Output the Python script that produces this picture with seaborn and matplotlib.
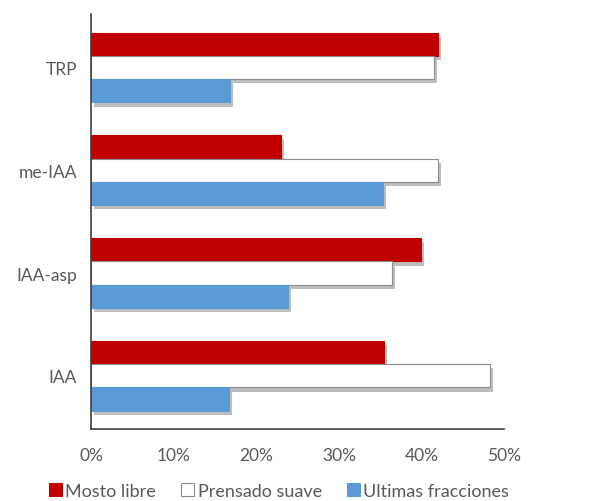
import matplotlib
matplotlib.use("Agg")
import matplotlib.pyplot as plt
import matplotlib.patheffects as pe
from matplotlib.patches import Patch
from matplotlib.ticker import PercentFormatter
import pandas as pd
import seaborn as sns

compuestos = ["TRP", "me-IAA", "IAA-asp", "IAA"]
fracciones = ["Mosto libre", "Prensado suave", "Ultimas fracciones"]
mosto_libre = [42.0, 23.0, 40.0, 35.5]
prensado_suave = [41.5, 42.0, 36.4, 48.3]
ultimas_fracciones = [16.8, 35.4, 23.9, 16.7]

colores = {"Mosto libre": "#C00000", "Prensado suave": "#FFFFFF", "Ultimas fracciones": "#5B9BD5"}
bordes = {"Mosto libre": "#C00000", "Prensado suave": "#8C8C8C", "Ultimas fracciones": "#5B9BD5"}

df = pd.DataFrame({
    "compuesto": compuestos * 3,
    "fraccion": [f for f in fracciones for _ in compuestos],
    "valor": mosto_libre + prensado_suave + ultimas_fracciones,
})

sns.set_theme(style="white")
plt.rcParams["font.family"] = ["Lato", "DejaVu Sans"]
texto = "#595959"

fig = plt.figure(figsize=(6.03, 5.02), dpi=100)
ax = fig.add_axes([0.151, 0.143, 0.685, 0.827])

sns.barplot(data=df, y="compuesto", x="valor", hue="fraccion",
            order=compuestos, hue_order=fracciones, palette=colores,
            orient="h", width=0.68, ax=ax, legend=False, saturation=1)

sombra = [pe.SimplePatchShadow(offset=(2, -3), shadow_rgbFace="#7f7f7f", alpha=0.5), pe.Normal()]
for cont, frac in zip(ax.containers, fracciones):
    for bar in cont:
        bar.set_edgecolor(bordes[frac])
        bar.set_linewidth(0.8)
        bar.set_path_effects(sombra)

ax.set_xlim(0, 50)
ax.set_ylim(3.52, -0.52)
ax.set_xticks([0, 10, 20, 30, 40, 50])
ax.xaxis.set_major_formatter(PercentFormatter(decimals=0))
ax.set_xlabel("")
ax.set_ylabel("")

for s in ["top", "right"]:
    ax.spines[s].set_visible(False)
for s in ["left", "bottom"]:
    ax.spines[s].set_color("#404040")
    ax.spines[s].set_linewidth(1.2)

ax.tick_params(axis="x", which="major", direction="out", length=5, width=1,
               color="#404040", labelsize=12.5, labelcolor=texto, pad=8)
ax.tick_params(axis="y", length=0, labelsize=12.5, labelcolor=texto, pad=10)

handles = [Patch(facecolor=colores[f], edgecolor=bordes[f], linewidth=0.8, label=f) for f in fracciones]
fig.legend(handles=handles, loc="center", bbox_to_anchor=(0.463, 0.02), ncol=3,
           frameon=False, fontsize=13, labelcolor=texto, handlelength=0.7,
           handleheight=0.7, handletextpad=0.2, columnspacing=1.4)

fig.savefig("out.png", dpi=100)
